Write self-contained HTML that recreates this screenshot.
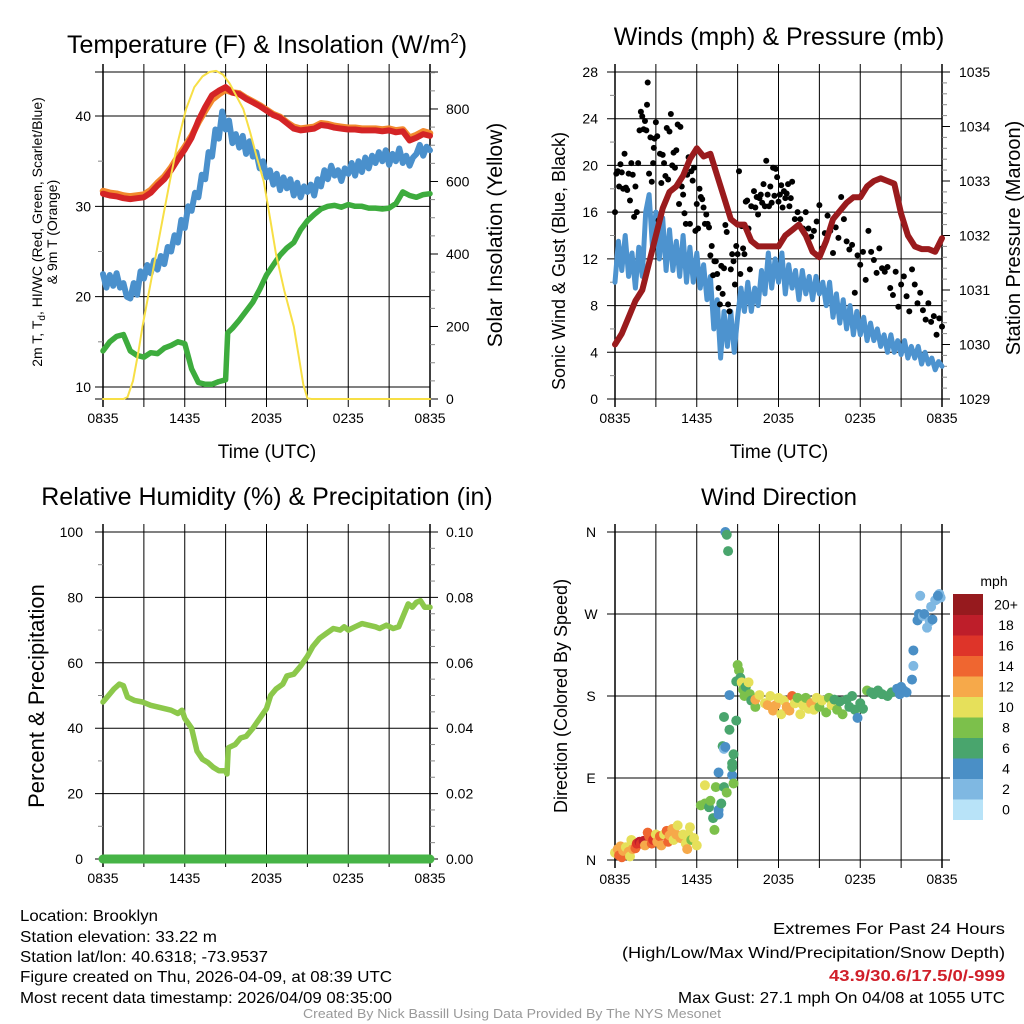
<!DOCTYPE html>
<html><head><meta charset="utf-8"><style>
html,body{margin:0;padding:0;background:#fff;}
svg{display:block;font-family:"Liberation Sans",sans-serif;}
</style></head><body>
<svg id="fig" width="1024" height="1024" viewBox="0 0 1024 1024" xmlns="http://www.w3.org/2000/svg">
<rect width="1024" height="1024" fill="#fff"/>
<text x="267" y="53" font-size="25" text-anchor="middle">Temperature (F) &amp; Insolation (W/m<tspan font-size="15" dy="-10">2</tspan><tspan dy="10">)</tspan></text>
<text x="779" y="45" font-size="25" text-anchor="middle">Winds (mph) &amp; Pressure (mb)</text>
<text x="267" y="505" font-size="25" text-anchor="middle">Relative Humidity (%) &amp; Precipitation (in)</text>
<text x="779" y="505" font-size="24" text-anchor="middle">Wind Direction</text>
<text transform="translate(42,232) rotate(-90)" font-size="14" text-anchor="middle">2m T, T<tspan font-size="10" dy="3">d</tspan><tspan dy="-3">, HI/WC (Red, Green, Scarlet/Blue)</tspan></text>
<text transform="translate(57,232) rotate(-90)" font-size="14" text-anchor="middle">&amp; 9m T (Orange)</text>
<text transform="translate(502,235) rotate(-90)" font-size="21" text-anchor="middle">Solar Insolation (Yellow)</text>
<text transform="translate(565,261) rotate(-90)" font-size="18" text-anchor="middle">Sonic Wind &amp; Gust (Blue, Black)</text>
<text transform="translate(1020,238) rotate(-90)" font-size="20" text-anchor="middle">Station Pressure (Maroon)</text>
<text transform="translate(44,696) rotate(-90)" font-size="22" text-anchor="middle">Percent &amp; Precipitation</text>
<text transform="translate(567,696) rotate(-90)" font-size="18" text-anchor="middle">Direction (Colored By Speed)</text>
<text x="267" y="458" font-size="19" text-anchor="middle">Time (UTC)</text>
<text x="779" y="458" font-size="19" text-anchor="middle">Time (UTC)</text>
<text x="994" y="586" font-size="14" text-anchor="middle">mph</text>
<g font-size="16">
<text x="20" y="921" textLength="138" lengthAdjust="spacingAndGlyphs">Location: Brooklyn</text>
<text x="20" y="942" textLength="197" lengthAdjust="spacingAndGlyphs">Station elevation: 33.22 m</text>
<text x="20" y="962" textLength="248" lengthAdjust="spacingAndGlyphs">Station lat/lon: 40.6318; -73.9537</text>
<text x="20" y="982" textLength="372" lengthAdjust="spacingAndGlyphs">Figure created on Thu, 2026-04-09, at 08:39 UTC</text>
<text x="20" y="1003" textLength="372" lengthAdjust="spacingAndGlyphs">Most recent data timestamp: 2026/04/09 08:35:00</text>
</g>
<g font-size="16" text-anchor="end">
<text x="1005" y="934" textLength="232" lengthAdjust="spacingAndGlyphs">Extremes For Past 24 Hours</text>
<text x="1005" y="958" textLength="383" lengthAdjust="spacingAndGlyphs">(High/Low/Max Wind/Precipitation/Snow Depth)</text>
<text x="1005" y="981" textLength="176" lengthAdjust="spacingAndGlyphs" fill="#d0202a" font-weight="bold">43.9/30.6/17.5/0/-999</text>
<text x="1005" y="1003" textLength="327" lengthAdjust="spacingAndGlyphs">Max Gust: 27.1 mph On 04/08 at 1055 UTC</text>
</g>
<text x="512" y="1018" font-size="13" fill="#999" text-anchor="middle" textLength="418" lengthAdjust="spacingAndGlyphs">Created By Nick Bassill Using Data Provided By The NYS Mesonet</text>
</svg>
<script>
// ---------- data ----------
const xTickLabels = ["0835","1435","2035","0235","0835"];
// Temperature panel
const tempT = [0,0.5,1,1.5,2,2.5,3,3.5,4,4.5,5,5.5,6,6.5,7,7.5,8,8.5,9,9.5,10,10.5,11,11.5,12,12.5,13,13.5,14,14.5,15,15.5,16,16.5,17,17.5,18,18.5,19,19.5,20,20.5,21,21.5,22,22.5,23,23.5,24];
const temp2m = [31.4,31.2,31.1,30.9,30.8,30.9,31.0,31.5,32.3,33.0,34.0,35.2,36.3,37.6,39.5,41.0,42.3,42.8,43.2,42.6,42.4,41.9,41.5,41.1,40.6,40.1,39.8,39.2,38.6,38.4,38.5,38.6,39.0,38.9,38.7,38.6,38.5,38.5,38.4,38.4,38.4,38.3,38.4,38.2,38.3,37.3,37.6,38.0,37.8];
const temp9m = [31.7,31.5,31.4,31.2,31.1,31.2,31.3,31.8,32.6,33.3,34.3,35.5,36.6,37.8,39.3,40.6,41.8,42.4,42.9,42.6,42.5,42.0,41.6,41.2,40.7,40.2,39.9,39.3,38.8,38.6,38.7,38.8,39.2,39.1,38.9,38.8,38.7,38.7,38.6,38.6,38.6,38.5,38.6,38.4,38.5,37.6,37.9,38.3,38.1];
const wcT = [0,0.25,0.5,0.75,1,1.25,1.5,1.75,2,2.25,2.5,2.75,3,3.25,3.5,3.75,4,4.25,4.5,4.75,5,5.25,5.5,5.75,6,6.25,6.5,6.75,7,7.25,7.5,7.75,8,8.25,8.5,8.75,9,9.25,9.5,9.75,10,10.25,10.5,10.75,11,11.25,11.5,11.75,12,12.25,12.5,12.75,13,13.25,13.5,13.75,14,14.25,14.5,14.75,15,15.25,15.5,15.75,16,16.25,16.5,16.75,17,17.25,17.5,17.75,18,18.25,18.5,18.75,19,19.25,19.5,19.75,20,20.25,20.5,20.75,21,21.25,21.5,21.75,22,22.25,22.5,22.75,23,23.25,23.5,23.75,24];
const windChill = [22.5,21.0,22.4,21.2,22.6,21.0,21.5,20.0,19.8,21.5,20.2,22.8,22.0,23.5,22.6,24.0,23.0,24.5,23.6,25.5,25.0,26.8,26.0,28.5,27.6,30.0,29.5,31.5,31.0,33.5,33.0,36.0,35.5,38.5,37.5,40.5,38.5,39.5,37.0,38.0,36.5,37.8,35.8,37.2,35.5,36.0,34.2,35.0,33.2,34.0,32.4,33.6,31.8,33.2,32.0,33.0,31.2,32.6,31.0,32.2,31.6,32.4,31.2,33.0,32.2,34.0,33.0,34.5,33.4,34.0,32.8,34.2,33.6,34.8,33.4,35.0,33.8,35.4,34.2,35.6,34.8,36.0,35.0,36.2,34.6,35.8,35.0,36.4,34.8,35.6,34.5,35.4,35.8,36.8,35.6,36.6,36.2];
const dewT = [0,0.5,1,1.5,2,2.5,3,3.5,4,4.5,5,5.5,6,6.5,7,7.5,8,8.5,9,9.15,9.5,10,10.5,11,11.5,12,12.5,13,13.5,14,14.5,15,15.5,16,16.5,17,17.5,18,18.5,19,19.5,20,20.5,21,21.5,22,22.5,23,23.5,24];
const dewPoint = [14.0,15.0,15.6,15.8,14.0,13.5,13.3,13.8,13.7,14.3,14.6,15.0,14.8,12.0,10.5,10.3,10.3,10.6,10.8,16.0,16.5,17.4,18.4,19.4,20.8,22.4,23.5,24.6,25.4,26.0,27.4,28.4,29.1,29.7,30.0,30.1,29.9,30.2,30.0,30.0,29.8,29.8,29.7,29.8,30.3,31.6,31.2,31.0,31.3,31.4];
const solarT = [0,1.5,1.8,2.2,2.6,2.9,3.4,3.9,4.4,4.9,5.5,6.1,6.7,7.3,7.8,8.3,8.8,9.3,9.8,10.3,10.8,11.3,11.8,12.3,12.7,13.3,14,14.4,14.7,15,15.3,24];
const solar = [0,0,5,50,130,200,300,400,500,600,710,800,860,890,902,905,895,870,835,800,735,665,600,490,400,300,200,110,40,2,0,0];
const tempLeftTicks = [10,20,30,40];
const tempRightTicks = [0,200,400,600,800];
// Winds panel
const presT = [0,0.5,1,1.5,2,2.5,3,3.5,4,4.5,5,5.5,6,6.5,7,7.5,8,8.5,9,9.5,10,10.5,11,11.5,12,12.5,13,13.5,14,14.5,15,15.5,16,16.5,17,17.5,18,18.5,19,19.5,20,20.5,21,21.5,22,22.5,23,23.5,24];
const pressure = [1030.0,1030.2,1030.5,1030.8,1031.0,1031.5,1032.0,1032.5,1032.8,1032.9,1033.1,1033.4,1033.6,1033.45,1033.5,1033.1,1032.7,1032.3,1032.2,1032.2,1031.9,1031.8,1031.8,1031.8,1031.8,1032.0,1032.1,1032.2,1032.0,1031.7,1031.6,1031.9,1032.3,1032.45,1032.6,1032.7,1032.7,1032.9,1033.0,1033.05,1033.0,1032.95,1032.4,1032.0,1031.8,1031.75,1031.75,1031.7,1031.95];
const windT = [0,0.25,0.5,0.75,1,1.25,1.5,1.75,2,2.25,2.5,2.75,3,3.25,3.5,3.75,4,4.25,4.5,4.75,5,5.25,5.5,5.75,6,6.25,6.5,6.75,7,7.25,7.5,7.75,8,8.25,8.5,8.75,9,9.25,9.5,9.75,10,10.25,10.5,10.75,11,11.25,11.5,11.75,12,12.25,12.5,12.75,13,13.25,13.5,13.75,14,14.25,14.5,14.75,15,15.25,15.5,15.75,16,16.25,16.5,16.75,17,17.25,17.5,17.75,18,18.25,18.5,18.75,19,19.25,19.5,19.75,20,20.25,20.5,20.75,21,21.25,21.5,21.75,22,22.25,22.5,22.75,23,23.25,23.5,23.75,24];
const windSpeed = [10,13.5,11,14,10.5,12.5,9.5,13,10.5,16,17.5,13,16,12,15.5,11,14.5,11,13.5,10.5,14,10,13,10,12.5,9.5,11.5,8.5,10.5,6,8.5,3.5,7.5,4.5,7.5,4,7,9.5,7.5,10,7.5,9.5,8,11,9,12.5,9.5,12,10,12.5,9,11.5,9.5,11,8.5,11,9,10.5,8.5,10.5,9,10,8,10,7,9,6.5,8.5,6,8,5.5,7.5,5.5,7,5,6.5,5,6,4.5,5.5,4,5.5,4,5,3.8,5,3.5,4.5,3.5,4.5,3,4,3,3.5,2.5,3.2,2.8];
const gustT = [0,0.1,0.2,0.3,0.4,0.5,0.6,0.7,0.8,0.9,1.0,1.1,1.2,1.3,1.4,1.5,1.6,1.7,1.8,1.9,2.0,2.1,2.2,2.3,2.35,2.4,2.5,2.6,2.7,2.8,2.85,2.9,3.0,3.1,3.2,3.3,3.4,3.5,3.6,3.7,3.8,3.9,4.0,4.1,4.2,4.3,4.4,4.5,4.6,4.7,4.8,4.9,5.0,5.1,5.2,5.3,5.4,5.5,5.6,5.7,5.8,5.9,6.0,6.1,6.2,6.3,6.4,6.5,6.6,6.7,6.8,6.9,7.0,7.1,7.2,7.3,7.4,7.5,7.6,7.7,7.8,7.9,8.0,8.1,8.2,8.3,8.4,8.5,8.6,8.7,8.8,8.9,9.0,9.1,9.2,9.3,9.4,9.5,9.6,9.7,9.8,9.9,10.0,10.2,10.3,10.4,10.5,10.6,10.7,10.8,10.9,11.0,11.1,11.2,11.3,11.4,11.5,11.6,11.7,11.8,11.9,12.0,12.1,12.2,12.3,12.4,12.5,12.6,12.7,12.8,12.9,13.0,13.2,13.4,13.6,13.8,14.0,14.2,14.4,14.6,14.8,15.0,15.2,15.4,15.6,15.8,16.0,16.2,16.4,16.6,16.8,17.0,17.2,17.4,17.6,17.8,18.0,18.2,18.4,18.6,18.8,19.0,19.2,19.4,19.6,19.8,20.0,20.2,20.4,20.6,20.8,21.0,21.2,21.4,21.6,21.8,22.0,22.2,22.4,22.6,22.8,23.0,23.2,23.4,23.6,23.8,24.0];
const gust = [16,19.3,19.5,18.2,20.1,19.4,18,21,18.1,17.9,19.3,17,20.2,19.2,15.6,18.2,16,20.2,23,24.6,24.2,23.1,23.8,23,25.2,27.1,19.3,22.4,18.6,20.2,21.5,22.3,23.7,22.5,15.3,21,18.5,20.9,20.2,19.1,23.2,18.8,22.9,24.4,20,21.1,19.8,21.3,23.5,16.7,23.3,18.2,17.5,15.9,15,19.2,20.7,15,19.5,18.7,19.8,14.4,16.7,14.6,18,17.3,17.1,16.4,15,15.8,15,14.7,12.3,13.1,10.6,11.8,11.8,10.7,9.5,8.1,11.4,9,11.2,14.9,14.3,8.1,7.5,11.1,12.4,11.8,9.8,13.1,12.4,19.5,10.7,14.8,12.9,12.4,16.9,17,14.6,11.1,16.5,17.8,16.4,17.3,15.8,17.2,17.5,16.8,18.4,16.5,20.4,17.5,16.5,18.2,16.8,19.8,17.4,19.7,19,16.9,17.5,18.3,16.4,17.8,17.2,17.6,18.4,16.5,17.2,18.6,15.4,16,15.4,14.6,16,14.6,13.9,14.4,15.2,16.6,12.9,14.2,15.7,14.4,12.5,14.7,13.8,17.3,15.4,13.5,12.8,13.2,9.1,12.3,11.5,12.6,10.2,14.4,12.6,11.9,10.8,12.9,11.2,10.9,11.3,9.5,8.9,10.9,7.9,9.8,10.5,8.8,7.5,11.1,9.8,8.2,9.1,7.6,6.8,8.2,6.6,7.1,5.5,6.9,6.2,5.5,5.4,6.1,5,4.8,5,4.5,4];
const windLeftTicks = [0,4,8,12,16,20,24,28];
const presRightTicks = [1029,1030,1031,1032,1033,1034,1035];
// Humidity panel
const rhT = [0,0.4,0.8,1.2,1.5,1.8,2.3,2.9,3.5,4,4.5,5,5.5,5.8,6,6.5,6.9,7.3,7.7,8.1,8.5,9.0,9.1,9.2,9.7,10.1,10.5,11,11.5,12,12.3,12.7,13.2,13.5,14,14.5,15,15.4,15.9,16.4,16.9,17.4,17.7,18,18.5,19,19.5,20,20.3,20.8,21.3,21.7,22.1,22.4,22.7,23,23.3,23.6,24];
const rh = [48,50,52,53.5,53,49.5,48.5,48,47,46.5,46,45.5,44.5,45.5,43,40,33,30.5,29.5,28,27,27,26,34,35,37,37.5,40,43,46,50,52,53.5,56,56.5,59,62,65,67.5,69,70.5,70,71,70,71,72,71.5,71,70.5,71.5,70.5,71,75,78,77,78.5,79,77,77];
const precipT = [0,24];
const precip = [0,0];
const rhLeftTicks = [0,20,40,60,80,100];
const precipRightTicks = ["0.00","0.02","0.04","0.06","0.08","0.10"];
// Wind direction panel
const dirT = [0,0.2,0.3,0.4,0.5,0.6,0.8,1.0,1.1,1.2,1.3,1.5,1.6,1.8,1.9,2.1,2.2,2.4,2.5,2.7,2.8,3.0,3.1,3.3,3.4,3.6,3.8,3.9,4.0,4.2,4.3,4.5,4.6,4.8,5.0,5.2,5.3,5.4,5.5,5.6,5.8,6.0,6.3,6.6,6.6,6.9,7.0,7.2,7.3,7.4,7.6,7.6,7.8,8.0,8.2,7.6,7.9,8.0,8.1,8.0,8.4,8.4,8.1,8.2,8.3,8.6,8.7,8.7,8.6,8.6,8.9,8.9,9.0,9.1,9.2,9.3,9.4,9.5,9.6,9.8,9.9,10.0,10.3,10.3,10.6,11.0,11.2,11.4,11.6,11.8,12.0,12.2,12.4,12.6,12.8,13.0,13.2,13.4,13.6,13.8,14.0,14.2,14.4,14.6,14.8,15.0,15.2,15.5,15.7,15.9,16.1,16.3,16.5,16.7,17.0,17.2,17.4,17.6,17.8,18.0,18.2,18.5,18.8,19.0,19.3,19.6,20.0,20.3,20.7,20.9,21.2,21.0,21.4,21.8,21.9,21.9,22.2,22.3,22.6,22.7,22.9,23.1,23.3,23.2,22.4,23.5,23.8,23.6,23.9,23.7];
const dirDeg = [8,12,5,15,3,10,14,9,4,22,12,13,18,20,18,21,16,30,26,18,22,28,20,26,16,28,32,20,27,34,22,28,38,24,28,18,12,28,36,22,24,16,60,62,82,58,65,46,33,80,55,50,62,80,74,96,125,122,124,157,143,181,360,357,339,93,84,116,102,106,153,196,214,208,200,195,187,180,190,195,182,175,168,176,181,172,170,180,164,170,178,160,175,168,164,180,172,178,160,170,178,166,172,165,178,168,175,162,178,170,176,165,174,160,176,168,180,165,156,172,166,186,184,182,186,182,180,184,188,182,186,190,184,198,213,230,263,270,268,270,255,262,264,278,290,285,292,286,288,290];
const dirSpeed = [10,12,14,12,14,12,10,12,10,10,12,14,16,18,16,18,12,14,14,14,16,10,12,14,12,10,14,14,12,12,10,12,10,12,10,10,12,10,10,8,10,10,8,8,10,6,8,6,8,8,4,4,6,6,8,4,6,2,4,6,6,4,4,6,6,4,8,6,6,6,6,6,8,8,6,10,8,8,6,10,8,6,8,12,10,10,12,10,12,12,10,10,10,12,12,14,10,8,10,10,8,10,12,10,10,8,10,8,8,10,6,8,6,8,6,6,6,6,4,6,6,8,6,6,6,6,6,6,4,4,4,4,4,4,2,4,4,4,2,4,2,2,4,2,2,2,2,2,2,4];
const dirTickLabels = ["N","E","S","W","N"];
const speedBinLabels = ["0","2","4","6","8","10","12","14","16","18","20+"];
const speedBinColors = ["#b8e3f8","#7fb8e2","#4a8fc6","#49a56d","#7cc04b","#e6e05a","#f6a94a","#ef6630","#de3429","#be1e2a","#961a1e"];

// ---------- helpers ----------
const NS = "http://www.w3.org/2000/svg";
const svg = document.getElementById("fig");
function mk(tag, attrs, parent){
  const e = document.createElementNS(NS, tag);
  for (const k in attrs) e.setAttribute(k, attrs[k]);
  (parent || svg).appendChild(e);
  return e;
}
function linScale(d0,d1,r0,r1){ return v => r0 + (v-d0)/(d1-d0)*(r1-r0); }

function frame(name, x0, x1, y0, y1){
  const g = mk("g", {});
  
  
  for (let i=0;i<=8;i++){
    const x = x0 + i*(x1-x0)/8;
    const ln = mk("line",{x1:x,x2:x,y1:y0-8,y2:y1+8,stroke:"#000","stroke-width":(i===0||i===8)?1.5:1}, g);
    
    
  }
  for (let i=0;i<xTickLabels.length;i++){
    const x = x0 + i*(x1-x0)/4;
    const t = mk("text",{x:x,y:y1+24,"font-size":14,"text-anchor":"middle"}, g);
    t.textContent = xTickLabels[i];
    
    
  }
  return g;
}
function hgrid(g, name, x0, x1, y, grid){
  const ln = mk("line",{x1:x0-8,x2:x1+ (grid?8:0),y1:y,y2:y,stroke:"#000","stroke-width":1}, g);
  
  
}
function minorTick(g, name, x, y, dir){
  const ln = mk("line",{x1:x,x2:x+dir*5,y1:y,y2:y,stroke:"#888","stroke-width":1}, g);
  
  
}
function label(g, name, x, y, txt, anchor){
  const t = mk("text",{x:x,y:y+5,"font-size":14,"text-anchor":anchor}, g);
  t.textContent = txt;
  
  
}
function polyline(name, ts, vs, sx, sy, color, w){
  const pts = ts.map((t,i)=> sx(t).toFixed(1)+","+sy(vs[i]).toFixed(1)).join(" ");
  const p = mk("polyline",{points:pts,fill:"none",stroke:color,"stroke-width":w,"stroke-linejoin":"round","stroke-linecap":"round"});
  
  
  return p;
}

// ---------- Temperature panel ----------
{
  const x0=103,x1=430,y0=72,y1=399;
  const sx = linScale(0,24,x0,x1);
  const sy = linScale(8.67,44.87,y1,y0);
  const sy2 = linScale(0,902,y1,y0);
  const g = frame("temperature", x0,x1,y0,y1);
  hgrid(g,"temperature",x0,x1,y0,true);
  hgrid(g,"temperature",x0,x1,y1,true);
  tempLeftTicks.forEach(v=>{ hgrid(g,"temperature",x0,x1,sy(v),false); label(g,"temperature-y-tick-label",x0-12,sy(v),String(v),"end"); });
  [15,25,35].forEach(v=>minorTick(g,"temperature",x0,sy(v),-1));
  tempRightTicks.forEach(v=>{ const ln=mk("line",{x1:x1,x2:x1+8,y1:sy2(v),y2:sy2(v),stroke:"#000"},g);   label(g,"insolation-tick-label",x1+16,sy2(v),String(v),"start"); });
  for (let v=50; v<=900; v+=50) if (v%200) minorTick(g,"insolation",x1,sy2(v),1);
  polyline("temperature-9m-line", tempT, temp9m, sx, sy, "#f28a2e", 6.5);
  polyline("temperature-2m-line", tempT, temp2m, sx, sy, "#d42426", 6);
  polyline("wind-chill-line", wcT, windChill, sx, sy, "#4a90cc", 6);
  polyline("dew-point-line", dewT, dewPoint, sx, sy, "#3dac3d", 5.5);
  polyline("solar-insolation-line", solarT, solar, sx, sy2, "#f7df45", 2);
}
// ---------- Winds panel ----------
{
  const x0=615,x1=942,y0=72,y1=399;
  const sx = linScale(0,24,x0,x1);
  const sy = linScale(0,28,y1,y0);
  const sy2 = linScale(1029,1035,y1,y0);
  const g = frame("winds", x0,x1,y0,y1);
  windLeftTicks.forEach(v=>{ hgrid(g,"winds",x0,x1,sy(v),false); label(g,"wind-y-tick-label",x0-17,sy(v),String(v),"end"); });
  for (let v=2; v<28; v+=4) minorTick(g,"winds",x0,sy(v),-1);
  presRightTicks.forEach(v=>{ const ln=mk("line",{x1:x1,x2:x1+8,y1:sy2(v),y2:sy2(v),stroke:"#000"},g);   label(g,"pressure-tick-label",x1+17,sy2(v),String(v),"start"); });
  for (let v=1029.2; v<1035; v+=0.2) if (Math.abs(v-Math.round(v))>0.05) minorTick(g,"pressure",x1,sy2(v),1);
  polyline("sonic-wind-line", windT, windSpeed, sx, sy, "#4d93cf", 5);
  const gg = mk("g",{});
  
  
  gustT.forEach((t,i)=>{
    const c = mk("circle",{cx:sx(t),cy:sy(gust[i]),r:3,fill:"#000"},gg);
    
    
  });
  polyline("pressure-line", presT, pressure, sx, sy2, "#9a1b1d", 6);
}
// ---------- Humidity panel ----------
{
  const x0=103,x1=430,y0=532,y1=859;
  const sx = linScale(0,24,x0,x1);
  const sy = linScale(0,100,y1,y0);
  const g = frame("humidity", x0,x1,y0,y1);
  rhLeftTicks.forEach((v,i)=>{ hgrid(g,"humidity",x0,x1,sy(v),true); label(g,"humidity-y-tick-label",x0-20,sy(v),String(v),"end"); label(g,"precip-y-tick-label",x1+16,sy(v),precipRightTicks[i],"start"); });
  for (let v=10; v<100; v+=20) minorTick(g,"humidity",x0,sy(v),-1);
  for (let v=5; v<100; v+=5) if (v%20) minorTick(g,"precip",x1,sy(v),1);
  polyline("relative-humidity-line", rhT, rh, sx, sy, "#8cc84b", 5.5);
  polyline("precipitation-line", precipT, precip, sx, sy, "#46b446", 9);
}
// ---------- Wind direction panel ----------
{
  const x0=615,x1=942,y0=532,y1=860;
  const sx = linScale(0,24,x0,x1);
  const sy = linScale(0,360,y1,y0);
  const g = frame("direction", x0,x1,y0,y1);
  dirTickLabels.forEach((lab,i)=>{ const v=i*90; hgrid(g,"direction",x0,x1,sy(v),true); label(g,"direction-y-tick-label",x0-24,sy(v),lab,"middle"); });
  const gg = mk("g",{});
  
  
  dirT.forEach((t,i)=>{
    const bin = Math.min(10, Math.floor(dirSpeed[i]/2));
    const c = mk("circle",{cx:sx(t),cy:sy(dirDeg[i]),r:5,fill:speedBinColors[bin]},gg);
    
    
  });
  const cb = mk("g",{});
  
  
  const h = 20.5, top = 594;
  speedBinLabels.forEach((lab,i)=>{
    const k = speedBinLabels.length-1-i;
    const y = top + k*h;
    const r = mk("rect",{x:953,y:y,width:30,height:h+0.5,fill:speedBinColors[i]},cb);
    
    
    const t = mk("text",{x:1006,y:y+h/2+5,"font-size":14,"text-anchor":"middle"},cb);
    t.textContent = lab;
    
    
  });
}
</script>
</body></html>
